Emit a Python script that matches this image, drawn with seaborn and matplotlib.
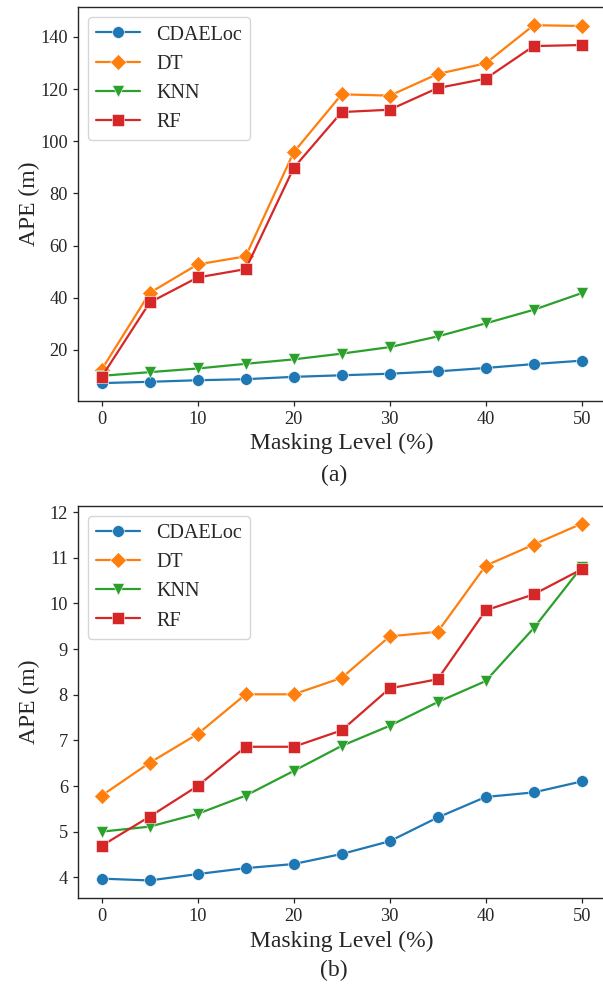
import numpy as np
import pandas as pd
import matplotlib
matplotlib.use("Agg")
import matplotlib.pyplot as plt
import seaborn as sns

# ---- data ----
masking = [0, 5, 10, 15, 20, 25, 30, 35, 40, 45, 50]
methods = ["CDAELoc", "DT", "KNN", "RF"]

a_cdaeloc = [7.3, 7.8, 8.4, 8.8, 9.7, 10.3, 10.9, 11.8, 13.1, 14.6, 15.9]
a_dt = [12.5, 41.9, 52.8, 55.9, 95.8, 118.0, 117.5, 125.8, 129.9, 144.5, 144.2]
a_knn = [10.1, 11.5, 12.9, 14.7, 16.4, 18.6, 21.1, 25.2, 30.2, 35.4, 41.8]
a_rf = [9.7, 38.2, 47.8, 51.0, 89.8, 111.2, 112.1, 120.4, 124.0, 136.5, 136.9]

b_cdaeloc = [3.97, 3.93, 4.07, 4.20, 4.29, 4.51, 4.79, 5.31, 5.76, 5.86, 6.10]
b_dt = [5.79, 6.51, 7.14, 8.01, 8.01, 8.37, 9.28, 9.38, 10.83, 11.29, 11.75]
b_knn = [5.00, 5.11, 5.39, 5.79, 6.33, 6.88, 7.32, 7.84, 8.30, 9.46, 10.80]
b_rf = [4.69, 5.33, 6.00, 6.86, 6.86, 7.22, 8.14, 8.34, 9.85, 10.20, 10.75]

panel_labels = ["(a)", "(b)"]
xlabel = "Masking Level (%)"
ylabel = "APE (m)"


def long_df(series):
    rows = []
    for name, vals in zip(methods, series):
        for x, v in zip(masking, vals):
            rows.append({"Masking": x, "APE": v, "Method": name})
    return pd.DataFrame(rows)


df_a = long_df([a_cdaeloc, a_dt, a_knn, a_rf])
df_b = long_df([b_cdaeloc, b_dt, b_knn, b_rf])

sns.set_style("ticks")
plt.rcParams["font.family"] = ["Liberation Serif", "DejaVu Serif"]
plt.rcParams["axes.edgecolor"] = "0.15"
plt.rcParams["axes.linewidth"] = 1.0
plt.rcParams["xtick.major.size"] = 3.5
plt.rcParams["ytick.major.size"] = 3.5
plt.rcParams["xtick.major.width"] = 0.9
plt.rcParams["ytick.major.width"] = 0.9

W, H = 603, 988
fig = plt.figure(figsize=(W / 100, H / 100), dpi=100)

palette = dict(zip(methods, sns.color_palette("tab10", 4)))
markers = dict(zip(methods, ["o", "D", "v", "s"]))

# axes rectangles from pixel measurements
left_px, right_px = 77.7, 605.7
boxes = [(7.3, 401.0), (505.8, 898.3)]
label_y = [475, 970]
MS = 8.5

for df, (top_px, bot_px), lab, ly in zip([df_a, df_b], boxes, panel_labels, label_y):
    ax = fig.add_axes([left_px / W, 1 - bot_px / H,
                       (right_px - left_px) / W, (bot_px - top_px) / H])
    sns.lineplot(data=df, x="Masking", y="APE", hue="Method", style="Method",
                 markers=markers, dashes=False, palette=palette,
                 linewidth=1.6, markersize=MS, markeredgewidth=0.4, ax=ax)
    ax.set_xlabel(xlabel, fontsize=17)
    ax.set_ylabel(ylabel, fontsize=17)
    ax.yaxis.set_label_coords(-0.072, 0.5)
    ax.tick_params(labelsize=13.2)
    ax.set_xticks([0, 10, 20, 30, 40, 50])
    sns.move_legend(ax, "upper left", title=None, fontsize=14.5,
                    frameon=True, fancybox=True, framealpha=0.8,
                    edgecolor="0.8", handlelength=2.2)
    for h in ax.get_legend().legend_handles:
        h.set_markersize(MS)
        h.set_markeredgewidth(0.4)
        h.set_linewidth(1.6)
    fig.text(334 / W, 1 - ly / H, lab, ha="center", va="center", fontsize=17)

fig.savefig("out.png", dpi=100)
